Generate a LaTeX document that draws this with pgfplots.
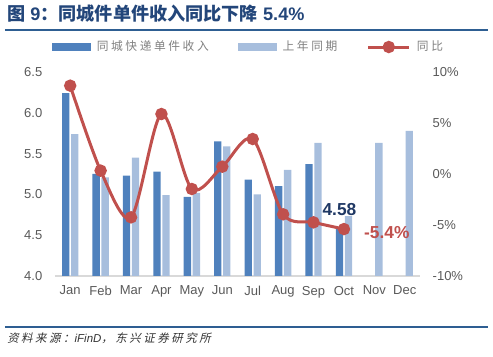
\documentclass[border=0pt]{standalone}
\usepackage{pgfplots}
\pgfplotsset{compat=1.18}
\usepackage{fontspec}
\setmainfont{Liberation Sans}
\newfontfamily\cjk{Noto Sans CJK SC}
\newfontfamily\cjkl[LetterSpace=22]{Noto Sans CJK SC}
\newfontfamily\cjksl[LetterSpace=22,FakeSlant=0.22]{Noto Sans CJK SC}
\definecolor{darkbar}{RGB}{79,129,189}
\definecolor{lightbar}{RGB}{167,190,221}
\definecolor{linered}{RGB}{192,80,77}
\definecolor{titleblue}{RGB}{35,70,122}
\definecolor{ruleblue}{RGB}{46,94,146}
\definecolor{navy}{RGB}{31,56,100}
\definecolor{tickgray}{RGB}{89,89,89}
\definecolor{leggray}{RGB}{128,128,128}
\definecolor{axisgray}{RGB}{217,217,217}
\newcommand\ticks{\fontsize{9.75pt}{11pt}\selectfont}
\begin{document}
\begin{tikzpicture}
\useasboundingbox (-41.25pt,-60.75pt) rectangle (328.5pt,207pt);
% title and rules
\node[anchor=west, inner sep=0pt, text=titleblue, font=\fontsize{13.6pt}{15pt}\selectfont\bfseries] at (-36pt,196.5pt) {{\cjk 图} 9{\cjk ：同城件单件收入同比下降} 5.4\%};
\draw[ruleblue, line width=1.1pt] (-37.5pt,184.5pt) -- (324.75pt,184.5pt);
\draw[ruleblue, line width=1.1pt] (-37.5pt,-38.25pt) -- (324.75pt,-38.25pt);
\node[anchor=west, inner sep=0pt, text=black!80, font=\fontsize{8.6pt}{10pt}\selectfont] at (-36pt,-46.5pt) {\cjksl 资料来源：\normalfont\itshape iFinD\cjksl ，东兴证券研究所};
\begin{axis}[
  scale only axis, width=273.75pt, height=153pt,
  xmin=-0.5, xmax=11.5, ymin=4, ymax=6.5,
  axis x line*=bottom, axis y line*=left,
  y axis line style={draw=none},
  x axis line style={draw=axisgray, line width=1.1pt, -},
  major tick length=0pt,
  xtick={0,...,11},
  xticklabels={Jan,Feb,Mar,Apr,May,Jun,Jul,Aug,Sep,Oct,Nov,Dec},
  ytick={4,4.5,5,5.5,6,6.5},
  yticklabel style={/pgf/number format/fixed, /pgf/number format/precision=1, /pgf/number format/fixed zerofill},
  /pgf/number format/assume math mode=true,
  tick label style={font=\ticks, text=tickgray},
  yticklabel style={xshift=-6pt},
  xticklabel style={yshift=-4pt},
  ybar, bar width=5.5pt,
]
\addplot[fill=darkbar, draw=none, bar shift=-3.4pt] coordinates {
(0,6.24) (1,5.25) (2,5.23) (3,5.28) (4,4.97) (5,5.65) (6,5.18) (7,5.10) (8,5.37) (9,4.58)};
\addplot[fill=lightbar, draw=none, bar shift=3.4pt] coordinates {
(0,5.74) (1,5.21) (2,5.45) (3,4.99) (4,5.02) (5,5.59) (6,5.00) (7,5.30) (8,5.63) (9,4.78) (10,5.63) (11,5.78)};
\node[anchor=south, text=navy, font=\fontsize{13pt}{14pt}\selectfont\bfseries, fill=white, inner sep=0.5pt] at (axis cs:9,4.58) [xshift=-3.4pt, yshift=9pt] {4.58};
\end{axis}
\begin{axis}[
  scale only axis, width=273.75pt, height=153pt,
  xmin=-0.5, xmax=11.5, ymin=-10, ymax=10,
  axis y line*=right, axis x line=none,
  y axis line style={draw=none},
  major tick length=0pt,
  ytick={-10,-5,0,5,10},
  yticklabel={\pgfmathprintnumber{\tick}\%},
  /pgf/number format/assume math mode=true,
  tick label style={font=\ticks, text=tickgray},
  yticklabel style={xshift=6pt},
  legend columns=3,
  legend cell align=left,
  legend style={draw=none, fill=none, at={(0.5315,1.1225)}, anchor=center,
    font=\cjkl\fontsize{8.8pt}{10pt}\selectfont, text=leggray,
    /tikz/every odd column/.append style={column sep=2.5pt},
    /tikz/every even column/.append style={column sep=20pt}},
]
\addlegendimage{legend image code/.code={\fill[darkbar] (0pt,-2.5pt) rectangle (28.5pt,2.5pt);}}
\addlegendentry{同城快递单件收入}
\addlegendimage{legend image code/.code={\fill[lightbar] (0pt,-2.5pt) rectangle (28.5pt,2.5pt);}}
\addlegendentry{上年同期}
\addplot[color=linered, line width=2.25pt, smooth, mark=*, mark size=3.5pt,
  legend image code/.code={\draw[linered, line width=2.25pt] (0pt,0pt) -- (31pt,0pt); \fill[linered] (15.5pt,0pt) circle (3.5pt);}]
coordinates {(0,8.66) (1,0.33) (2,-4.25) (3,5.88) (4,-1.47) (5,0.72) (6,3.43) (7,-3.95) (8,-4.74) (9,-5.4)};
\addlegendentry{同比}
\node[anchor=west, inner sep=0pt, text=linered, font=\fontsize{13pt}{14pt}\selectfont\bfseries] at (axis cs:9,-5.4) [xshift=15pt, yshift=-2.25pt] {-5.4\%};
\end{axis}
\end{tikzpicture}
\end{document}
